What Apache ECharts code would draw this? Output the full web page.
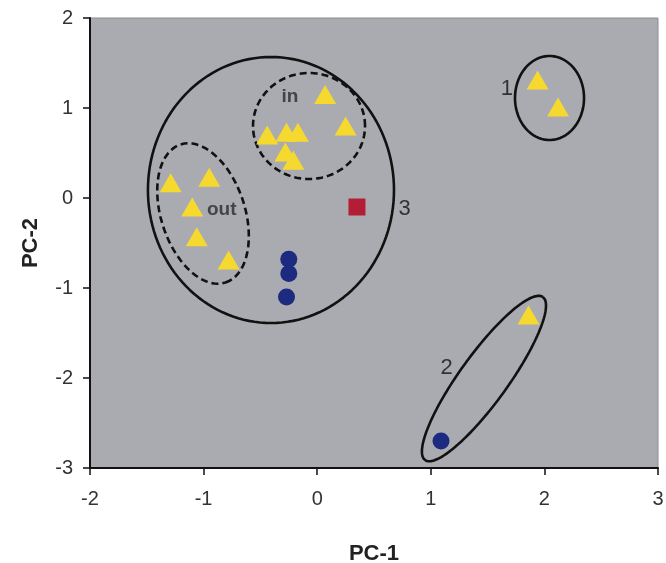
<!DOCTYPE html>
<html>
<head>
<meta charset="utf-8">
<script src="https://cdn.jsdelivr.net/npm/echarts@6/dist/echarts.min.js"></script>
<style>html,body{margin:0;padding:0;background:#fff}#c{width:666px;height:563px}</style>
</head>
<body>
<div id="c"></div>
<script>
// Data
var xTicks = [-2, -1, 0, 1, 2, 3];
var yTicks = [-3, -2, -1, 0, 1, 2];
var triangles = [
  [-1.29, 0.17], [-0.95, 0.23], [-1.10, -0.10], [-1.06, -0.43], [-0.78, -0.69],
  [-0.44, 0.70], [-0.27, 0.73], [-0.17, 0.73], [-0.28, 0.51], [-0.21, 0.42],
  [0.07, 1.15], [0.25, 0.80],
  [1.94, 1.31], [2.12, 1.01],
  [1.86, -1.30]
];
var circles = [[-0.25, -0.68], [-0.25, -0.84], [-0.27, -1.10], [1.09, -2.70]];
var squares = [[0.35, -0.10]];
// Ellipses: center, first semi-axis vector, second semi-axis vector (data units), dashed?
var ellipseNames = ['3', 'in', 'out', '1', '2'];
var ellipseCenters = [[-0.407, 0.089], [-0.072, 0.80], [-1.005, -0.172], [2.045, 1.111], [1.468, -2.006]];
var ellipseU = [[1.083, 0], [0.493, 0], [0.198, -0.767], [0.304, 0], [0.519, 0.906]];
var ellipseV = [[0, 1.478], [0, 0.589], [0.351, 0.144], [0, 0.467], [0.171, -0.157]];
var ellipseDashed = [false, true, true, false, false];
var groupLabels = ['in', 'out'];
var groupLabelPos = [[-0.24, 1.12], [-0.84, -0.13]];
var clusterLabels = ['1', '2', '3'];
var clusterLabelPos = [[1.67, 1.21], [1.14, -1.89], [0.77, -0.12]];

function ellipsePoints(c, u, v) {
  var pts = [];
  var n = 140;
  for (var i = 0; i <= n; i++) {
    var t = 2 * Math.PI * i / n;
    pts.push([c[0] + u[0] * Math.cos(t) + v[0] * Math.sin(t),
              c[1] + u[1] * Math.cos(t) + v[1] * Math.sin(t)]);
  }
  return pts;
}

var FONT = 'Liberation Sans, Arial, Helvetica, sans-serif';
var series = [];
for (var k = 0; k < ellipseCenters.length; k++) {
  series.push({
    type: 'line', name: 'ellipse ' + ellipseNames[k],
    data: ellipsePoints(ellipseCenters[k], ellipseU[k], ellipseV[k]),
    showSymbol: false, symbol: 'none', smooth: false, silent: true, z: 2,
    lineStyle: { color: '#111', width: 2.6, type: ellipseDashed[k] ? [7, 4] : 'solid' }
  });
}
series.push({
  type: 'scatter', data: triangles, symbol: 'triangle', symbolSize: [22, 19], z: 3,
  itemStyle: { color: '#f6d92e', opacity: 1 }
});
series.push({
  type: 'scatter', data: circles, symbol: 'circle', symbolSize: 17, z: 3,
  itemStyle: { color: '#1c2a80', opacity: 1 }
});
series.push({
  type: 'scatter', data: squares, symbol: 'rect', symbolSize: 17, z: 3,
  itemStyle: { color: '#b41d36', opacity: 1 }
});
series.push({
  type: 'scatter', symbolSize: 0, z: 4, silent: true,
  data: groupLabelPos.map(function (p, i) { return { value: p, name: groupLabels[i] }; }),
  label: {
    show: true, position: 'inside', formatter: '{b}',
    fontFamily: FONT, fontSize: 19, fontWeight: 'bold', color: '#2a2a2e'
  }
});
series.push({
  type: 'scatter', symbolSize: 0, z: 4, silent: true,
  data: clusterLabelPos.map(function (p, i) { return { value: p, name: clusterLabels[i] }; }),
  label: {
    show: true, position: 'inside', formatter: '{b}',
    fontFamily: FONT, fontSize: 22, color: '#111'
  }
});

var chart = echarts.init(document.getElementById('c'), null, { renderer: 'canvas' });
chart.setOption({
  backgroundColor: '#ffffff',
  animation: false,
  grid: {
    left: 90, right: 8, top: 18, bottom: 95, show: true,
    containLabel: false, outerBoundsMode: 'none',
    backgroundColor: '#aaabb0', borderColor: '#8c8c90', borderWidth: 1
  },
  xAxis: {
    type: 'value', min: -2, max: 3, interval: 1,
    name: 'PC-1', nameLocation: 'middle', nameGap: 75,
    nameTextStyle: { fontFamily: FONT, fontSize: 22, fontWeight: 'bold', color: '#222' },
    axisLine: { show: true, onZero: false, lineStyle: { color: '#111', width: 2 } },
    axisTick: { show: true, inside: false, length: 7, lineStyle: { color: '#111', width: 1.5 } },
    axisLabel: {
      margin: 21, fontFamily: FONT, fontSize: 20, color: '#333',
      formatter: function (v) { return xTicks.indexOf(v) >= 0 ? String(v) : ''; }
    },
    splitLine: { show: false }
  },
  yAxis: {
    type: 'value', min: -3, max: 2, interval: 1,
    name: 'PC-2', nameLocation: 'middle', nameGap: 48,
    nameTextStyle: { fontFamily: FONT, fontSize: 22, fontWeight: 'bold', color: '#222' },
    axisLine: { show: true, onZero: false, lineStyle: { color: '#111', width: 2 } },
    axisTick: { show: true, inside: false, length: 7, lineStyle: { color: '#111', width: 1.5 } },
    axisLabel: {
      margin: 17, fontFamily: FONT, fontSize: 20, color: '#333',
      formatter: function (v) { return yTicks.indexOf(v) >= 0 ? String(v) : ''; }
    },
    splitLine: { show: false }
  },
  series: series
});
</script>
</body>
</html>
